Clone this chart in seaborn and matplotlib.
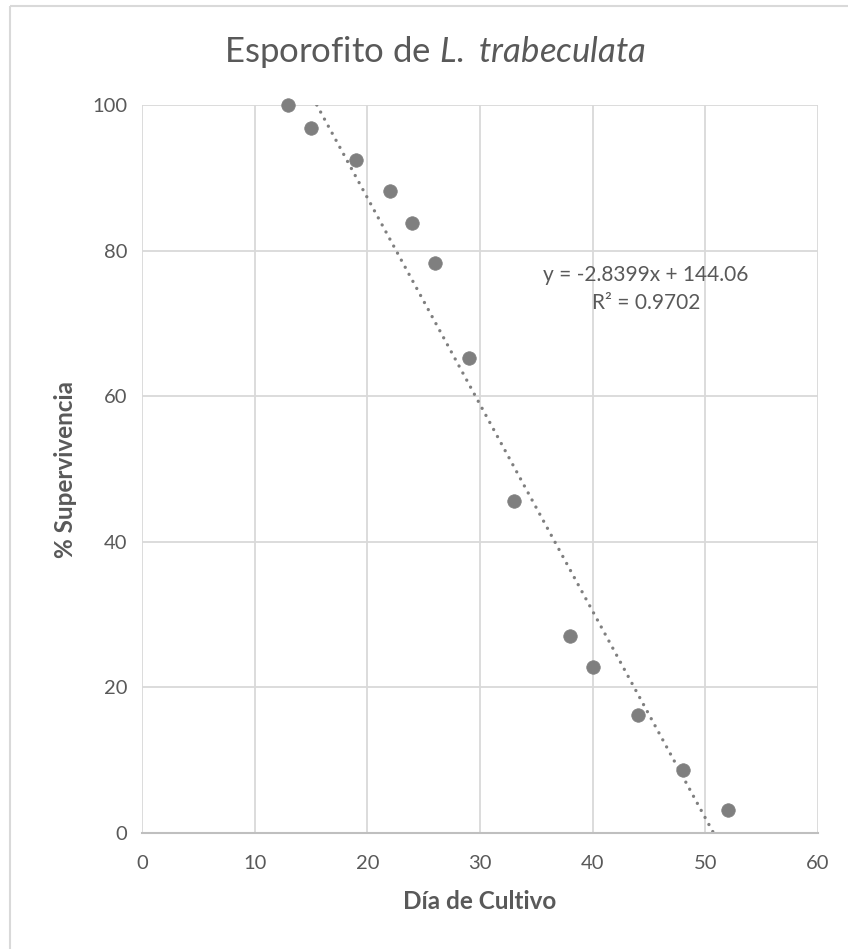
import numpy as np
import pandas as pd
import matplotlib
matplotlib.use("Agg")
import matplotlib.pyplot as plt
import seaborn as sns
from matplotlib.patches import Rectangle

# Data
dias = [13, 15, 19, 22, 24, 26, 29, 33, 38, 40, 44, 48, 52]
supervivencia = [100, 96.8, 92.4, 88.2, 83.8, 78.3, 65.2, 45.6, 27.1, 22.8, 16.2, 8.65, 3.2]
x_ticks = [0, 10, 20, 30, 40, 50, 60]
y_ticks = [0, 20, 40, 60, 80, 100]
slope, intercept = -2.8399, 144.06
r2_text = "0.9702"

sns.set_theme(style="white")
plt.rcParams['font.family'] = ['Lato', 'DejaVu Sans']
plt.rcParams['mathtext.fontset'] = 'custom'
plt.rcParams['mathtext.rm'] = 'Lato'
plt.rcParams['mathtext.it'] = 'Lato:italic'

df = pd.DataFrame({"dia": dias, "sup": supervivencia})

fig = plt.figure(figsize=(8.48, 9.49), dpi=100)
ax = fig.add_axes([142/848, 1-833/949, (818-142)/848, (833-105)/949])

# outer chart border
fig.patches.append(Rectangle((10/848, 1-6/949), 2, -2, transform=fig.transFigure,
                             fill=False, edgecolor="#d9d9d9", linewidth=1.5))

grid_c = "#d9d9d9"
for xv in x_ticks:
    ax.axvline(xv, color=grid_c, lw=1.3, zorder=0)
for yv in y_ticks:
    ax.axhline(yv, color=grid_c, lw=1.3, zorder=0)

# trendline
x0 = (100 - intercept) / slope
x1 = (0 - intercept) / slope
xs = np.array([x0, x1])
sns.lineplot(x=xs, y=slope * xs + intercept, ax=ax, color="#7f7f7f", lw=2.4,
             linestyle=(0, (0.01, 2.4)), dash_capstyle="round", zorder=2)

sns.scatterplot(data=df, x="dia", y="sup", ax=ax, s=95, color="#7f7f7f",
                edgecolor="#7f7f7f", linewidth=0.5, zorder=3, clip_on=False)

ax.set_xlim(0, 60)
ax.set_ylim(0, 100)
ax.set_xticks(x_ticks)
ax.set_yticks(y_ticks)
for s in ["top", "right", "left"]:
    ax.spines[s].set_visible(False)
ax.spines["bottom"].set_color("#bfbfbf")
ax.spines["bottom"].set_linewidth(1.5)
ax.tick_params(axis="both", length=0, labelsize=14.5, labelcolor="#595959")
ax.tick_params(axis="x", pad=16)
ax.tick_params(axis="y", pad=10.5)

ax.set_xlabel("Día de Cultivo", fontsize=17.5, fontweight="bold", color="#595959", labelpad=13)
ax.set_ylabel("% Supervivencia", fontsize=17.5, fontweight="bold", color="#595959", labelpad=11)

fig.text(435/848, 1-52/949, r"$\mathrm{Esporofito\ de\ }\mathit{L.\ trabeculata}$",
         ha="center", va="center", fontsize=25, color="#595959")

fig.text(646/848, 1-275/949, f"y = {slope}x + {intercept}", ha="center", va="center",
         fontsize=15, color="#595959")
fig.text(646/848, 1-303/949, f"R² = {r2_text}", ha="center", va="center",
         fontsize=15, color="#595959")

fig.savefig("out.png", dpi=100)
